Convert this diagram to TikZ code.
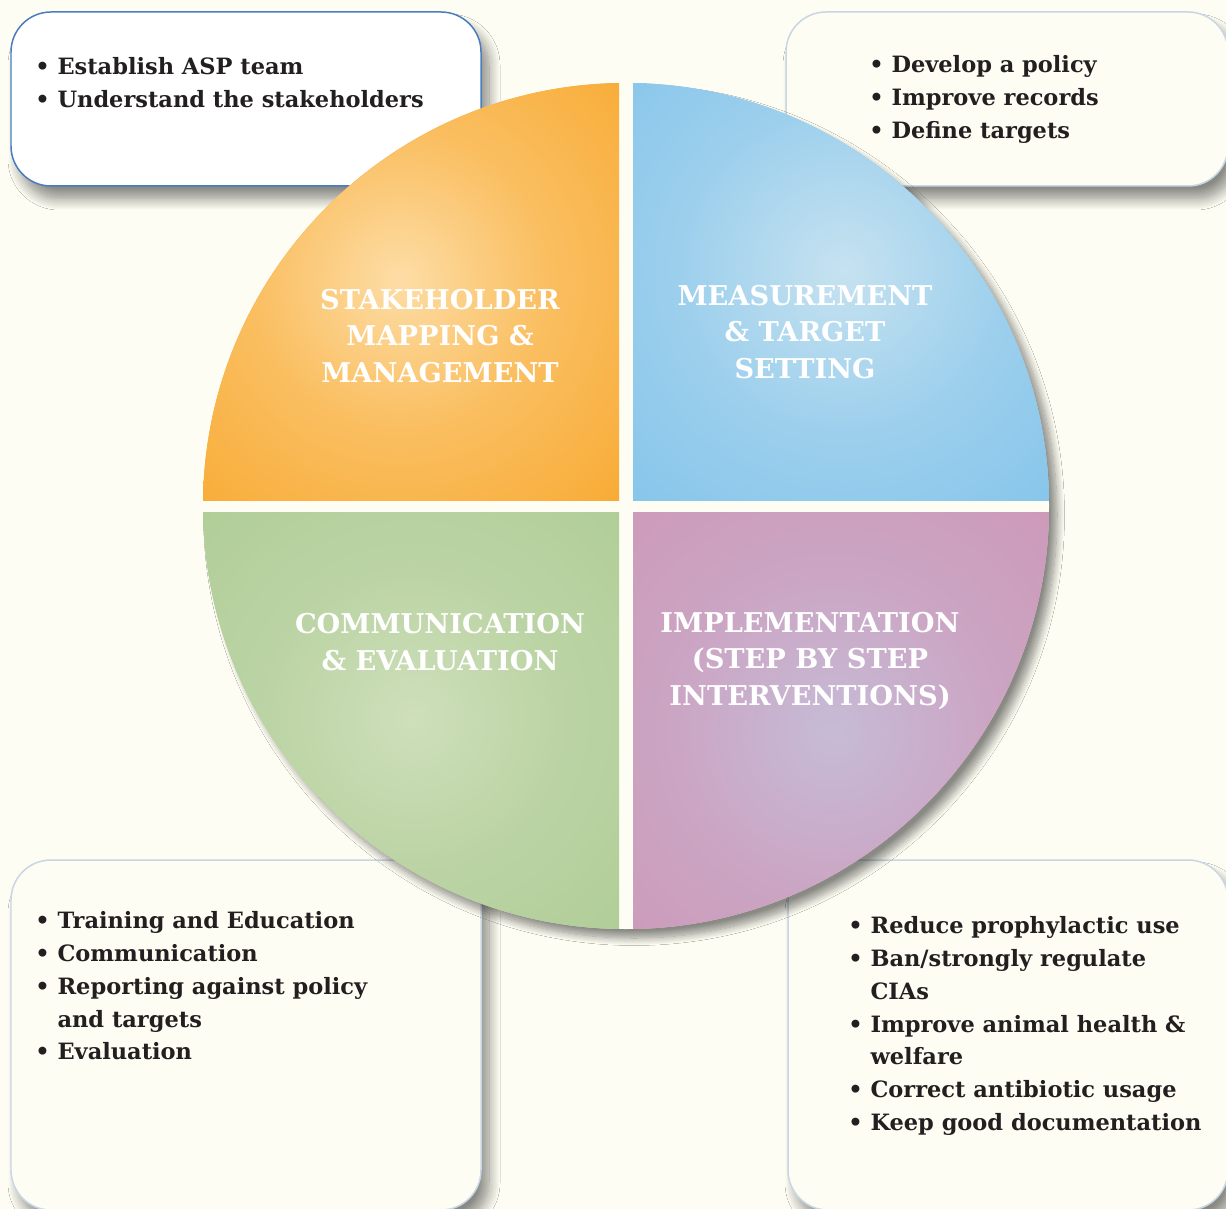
\documentclass[tikz,border=0pt]{standalone}
\usepackage{fontspec}
\setmainfont{DejaVu Serif}
\usetikzlibrary{shadows.blur}

\definecolor{paper}{HTML}{FDFDF3}
\definecolor{ink}{HTML}{231F20}
\definecolor{boxblue}{HTML}{4A7DBF}
\definecolor{boxgrey}{HTML}{C9D6E3}
\definecolor{orangebase}{HTML}{F7A11E}
\definecolor{orangelight}{HTML}{FDDDA6}
\definecolor{bluebase}{HTML}{72BCE9}
\definecolor{bluelight}{HTML}{C6E2F0}
\definecolor{greenbase}{HTML}{A8C88E}
\definecolor{greenlight}{HTML}{CEDFBA}
\definecolor{pinkbase}{HTML}{D08EB0}
\definecolor{pinklight}{HTML}{C6BBD6}

% soft glow for each quadrant
\pgfdeclareradialshading{orangeglow}{\pgfpoint{0bp}{0bp}}{color(0bp)=(orangelight);
  color(9bp)=(orangelight!50!orangebase); color(25bp)=(orangebase); color(50bp)=(orangebase)}
\pgfdeclareradialshading{blueglow}{\pgfpoint{0bp}{0bp}}{color(0bp)=(bluelight);
  color(9bp)=(bluelight!50!bluebase); color(25bp)=(bluebase); color(50bp)=(bluebase)}
\pgfdeclareradialshading{greenglow}{\pgfpoint{0bp}{0bp}}{color(0bp)=(greenlight);
  color(9bp)=(greenlight!50!greenbase); color(25bp)=(greenbase); color(50bp)=(greenbase)}
\pgfdeclareradialshading{pinkglow}{\pgfpoint{0bp}{0bp}}{color(0bp)=(pinklight);
  color(9bp)=(pinklight!50!pinkbase); color(25bp)=(pinkbase); color(50bp)=(pinkbase)}

\tikzset{
  listbox/.style={rounded corners=0.8cm, line width=0.03cm,
    blur shadow={shadow xshift=0.16cm, shadow yshift=-0.26cm,
      shadow blur radius=0.22cm, shadow blur steps=12, shadow opacity=45}},
  listtext/.style={anchor=north west, inner sep=0pt, align=left, text=ink,
    font=\fontsize{12.8}{18.7}\selectfont\bfseries},
  quadtext/.style={inner sep=0pt, align=center, text=white,
    font=\fontsize{15.5}{21}\selectfont\bfseries}
}

\begin{document}
\begin{tikzpicture}[x=0.02cm,y=-0.02cm]
% Canvas
\fill[paper] (0,0) rectangle (1226,1209);
\useasboundingbox (0,0) rectangle (1226,1209);

% Drawing the four list boxes
\fill[white, draw=boxblue, listbox] (11,12) rectangle (481,186);
\fill[paper, draw=boxgrey, listbox] (786,12) rectangle (1228,186);
\fill[paper, draw=boxgrey, listbox] (11,860) rectangle (481,1210);
\fill[paper, draw=boxgrey, listbox] (788,860) rectangle (1228,1210);

% Drawing circle shadow
\fill[paper, blur shadow={shadow xshift=0.16cm, shadow yshift=-0.18cm,
  shadow blur radius=0.15cm, shadow blur steps=12, shadow opacity=45}] (626,506) circle (423);

% Quadrant stakeholders
\begin{scope}
  \clip (626,506) circle (423);
  \clip (0,0) rectangle (619,500);
  \fill[orangebase] (0,0) rectangle (619,500);
  \shade[shading=orangeglow] (400,280) circle (400);
\end{scope}

% Quadrant measurement
\begin{scope}
  \clip (626,506) circle (423);
  \clip (633,0) rectangle (1226,500);
  \fill[bluebase] (633,0) rectangle (1226,500);
  \shade[shading=blueglow] (843,270) circle (460);
\end{scope}

% Quadrant communication
\begin{scope}
  \clip (626,506) circle (423);
  \clip (0,512) rectangle (619,1209);
  \fill[greenbase] (0,512) rectangle (619,1209);
  \shade[shading=greenglow] (413,718) circle (420);
\end{scope}

% Quadrant implementation
\begin{scope}
  \clip (626,506) circle (423);
  \clip (633,512) rectangle (1226,1209);
  \fill[pinkbase] (633,512) rectangle (1226,1209);
  \shade[shading=pinkglow] (833,732) circle (460);
\end{scope}

% Quadrant titles
\node[quadtext] (stake) at (440,336) {STAKEHOLDER\\MAPPING \&\\MANAGEMENT};
\node[quadtext] (measure) at (805,332) {MEASUREMENT\\\& TARGET\\SETTING};
\node[quadtext] (comm) at (440,642) {COMMUNICATION\\\& EVALUATION};
\node[quadtext] (implem) at (810,661) {IMPLEMENTATION\\(STEP BY STEP\\INTERVENTIONS)};

% Bullet lists
\node[listtext] (stakelist) at (35,57) {\textbullet\ Establish ASP team\\
  \textbullet\ Understand the stakeholders};
\node[listtext] (measurelist) at (869,55) {\textbullet\ Develop a policy\\
  \textbullet\ Improve records\\\textbullet\ Define targets};
\node[listtext] (commlist) at (35,911) {\textbullet\ Training and Education\\
  \textbullet\ Communication\\\textbullet\ Reporting against policy\\
  \phantom{\textbullet\ }and targets\\\textbullet\ Evaluation};
\node[listtext] (implemlist) at (848,916) {\textbullet\ Reduce prophylactic use\\
  \textbullet\ Ban/strongly regulate\\\phantom{\textbullet\ }CIAs\\
  \textbullet\ Improve animal health \&\\\phantom{\textbullet\ }welfare\\
  \textbullet\ Correct antibiotic usage\\\textbullet\ Keep good documentation};
\end{tikzpicture}
\end{document}
